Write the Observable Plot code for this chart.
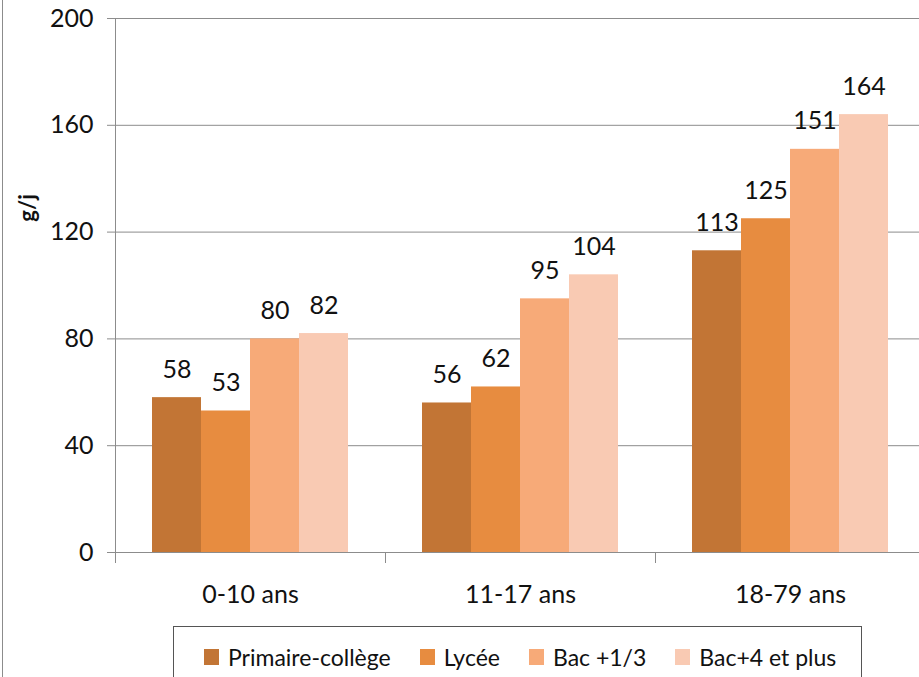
<!DOCTYPE html>
<html>
<head>
<meta charset="utf-8">
<script src="https://cdn.jsdelivr.net/npm/d3@7"></script>
<script src="https://cdn.jsdelivr.net/npm/@observablehq/plot@0.6"></script>
<style>
  html, body { margin: 0; padding: 0; background: #fff; overflow: hidden; width: 919px; height: 677px; }
  #wrap { position: relative; width: 919px; height: 677px; overflow: hidden; font-family: Lato, sans-serif; color: #111; }
  #chart { position: absolute; left: 0; top: 0; width: 919px; overflow: hidden; }
  #chart svg { display: block; }
  #border { position: absolute; left: 2px; top: 0; width: 1px; height: 677px; background: #8c8c8c; }
  #ylabel { position: absolute; left: 26px; top: 208px; transform: translate(-50%, -50%) rotate(-90deg); font-weight: bold; font-size: 22px; white-space: nowrap; }
  #legend { position: absolute; left: 173px; top: 626px; width: 689px; height: 70px; border: 1px solid #555; box-sizing: border-box; display: flex; align-items: flex-start; padding: 16px 0 0 30px; font-size: 23px; overflow: hidden; }
  .item { display: flex; align-items: center; margin-right: 29px; white-space: nowrap; }
  .sw { width: 15px; height: 16px; margin-right: 9px; }
</style>
</head>
<body>
<div id="wrap">
  <div id="border"></div>
  <div id="chart"></div>
  <div id="ylabel">g/j</div>
  <div id="legend"></div>
</div>
<script>
const groups = ["0-10 ans", "11-17 ans", "18-79 ans"];
const series = ["Primaire-collège", "Lycée", "Bac +1/3", "Bac+4 et plus"];
const primaireCollege = [58, 56, 113];
const lycee = [53, 62, 125];
const bac13 = [80, 95, 151];
const bac4 = [82, 104, 164];
const colors = ["#C27535", "#E78C40", "#F7AA78", "#F9CAB3"];
const yTicks = [0, 40, 80, 120, 160, 200];

const seriesValues = [primaireCollege, lycee, bac13, bac4];
const data = groups.flatMap((g, i) => series.map((s, j) => ({group: g, series: s, value: seriesValues[j][i]})));

const gridColor = "#8c8c8c";

const chart = Plot.plot({
  width: 919,
  height: 620,
  marginLeft: 115,
  marginRight: -6,
  marginTop: 18,
  marginBottom: 68,
  style: {fontFamily: "Lato, sans-serif", fontSize: "25px", color: "#111", background: "transparent", overflow: "hidden"},
  fx: {domain: groups, padding: 0, axis: null},
  x: {domain: series, paddingInner: 0, paddingOuter: 0.755, axis: null},
  y: {domain: [0, 200], axis: null},
  color: {domain: series, range: colors},
  marks: [
    Plot.ruleY(yTicks, {stroke: gridColor, strokeOpacity: 1}),
    Plot.frame({anchor: "left", stroke: gridColor, strokeOpacity: 1, insetTop: 534, insetBottom: -10}),
    Plot.frame({anchor: "left", facet: "super", stroke: gridColor, strokeOpacity: 1, insetBottom: -10}),
    Plot.axisY({ticks: yTicks, tickSize: 8, tickPadding: 14, stroke: gridColor, strokeOpacity: 1, fill: "#111", fontSize: 25, label: null}),
    Plot.barY(data, {fx: "group", x: "series", y: "value", fill: "series"}),
    Plot.text(data, {fx: "group", x: "series", y: "value", text: d => String(d.value), dy: -28, lineAnchor: "middle", fontSize: 25, fill: "#111"}),
    Plot.text(groups, {fx: d => d, text: d => d, frameAnchor: "bottom", dy: 42, lineAnchor: "middle", fontSize: 25, fill: "#111"})
  ]
});
document.getElementById("chart").appendChild(chart);

const legend = document.getElementById("legend");
series.forEach((s, i) => {
  const item = document.createElement("div");
  item.className = "item";
  const sw = document.createElement("span");
  sw.className = "sw";
  sw.style.background = colors[i];
  const t = document.createElement("span");
  t.textContent = s;
  item.appendChild(sw);
  item.appendChild(t);
  legend.appendChild(item);
});
</script>
</body>
</html>
